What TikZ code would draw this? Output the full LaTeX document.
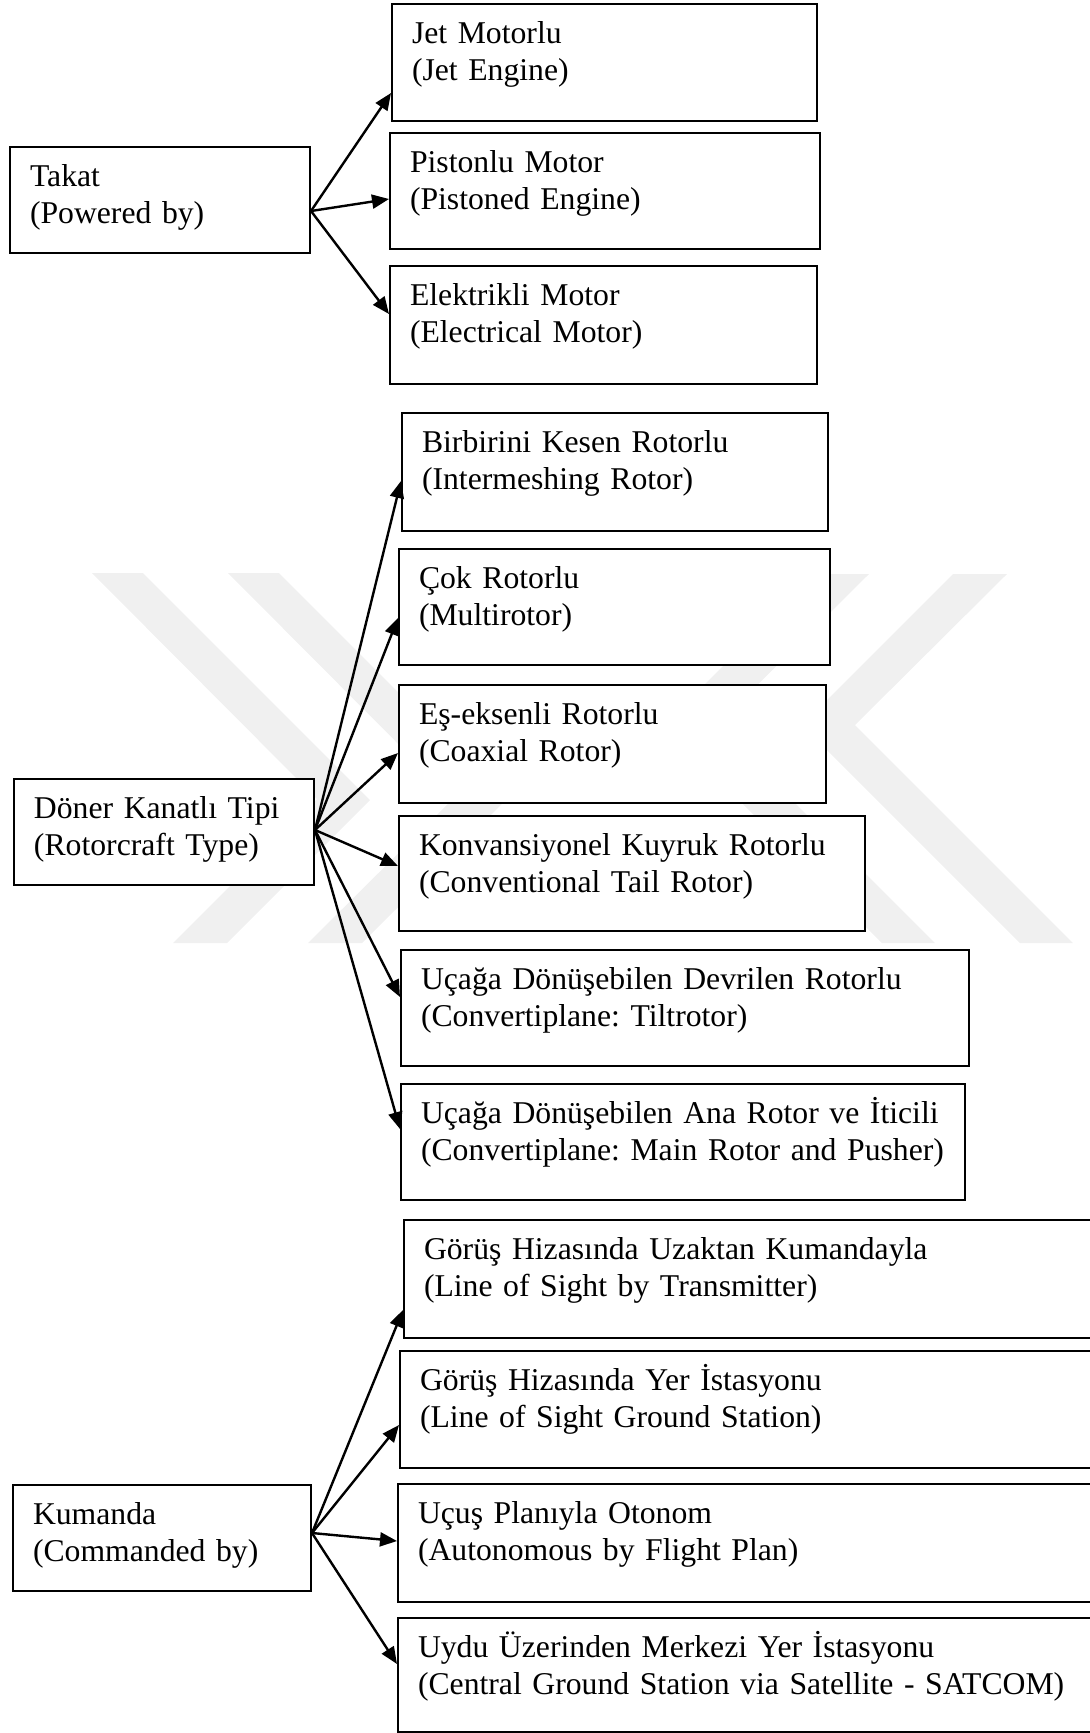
\documentclass[tikz,border=0pt]{standalone}
\usepackage{fontspec}
\setmainfont{Liberation Serif}
\usetikzlibrary{arrows.meta}

\begin{document}
\begin{tikzpicture}[
    x=1pt, y=-1pt,
    box/.style={rectangle, draw, line width=2pt, fill=white, anchor=north west, align=left,
        inner xsep=20pt, inner ysep=0pt, text height=39pt,
        font=\fontsize{31.7pt}{37.6pt}\selectfont\frenchspacing},
    wmark/.style={fill=black!6},
    link/.style={->, >={Triangle[length=17pt,width=14pt]}, line width=2.4pt}
]

\useasboundingbox (0,0) rectangle (1090,1733);
\clip (0,0) rectangle (1090,1733);

% faint watermark behind the boxes
\fill[wmark] (92,573) -- (143,573) -- (370,800) -- (227,943) -- (173,943) -- (317,799) -- cycle;
\fill[wmark] (228,573) -- (279,573) -- (506,800) -- (362,943) -- (308,943) -- (453,799) -- cycle;
\fill[wmark] (953,574) -- (1007,574) -- (855,725) -- (1073,943) -- (1020,943) -- (802,725) -- cycle;
\fill[wmark] (815,574) -- (869,574) -- (717,725) -- (935,943) -- (882,943) -- (664,725) -- cycle;

% Takat
\node[box, text width=260pt, text depth=67pt] (takat) at (9,146) {Takat\\(Powered by)};
\node[box, text width=385pt, text depth=78pt] (jet) at (391,3) {Jet Motorlu\\(Jet Engine)};
\node[box, text width=390pt, text depth=77pt] (piston) at (389,132) {Pistonlu Motor\\(Pistoned Engine)};
\node[box, text width=387pt, text depth=79pt] (elek) at (389,265) {Elektrikli Motor\\(Electrical Motor)};

\coordinate (takatout) at ([yshift=-11pt]takat.east);
\draw[link] (takatout) -- ([yshift=-30.5pt]jet.west);
\draw[link] (takatout) -- ([yshift=-8pt]piston.west);
\draw[link] (takatout) -- ([yshift=11pt]elek.west);

% Döner kanatlı
\node[box, text width=260pt, text depth=67pt] (doner) at (13,778) {Döner Kanatlı Tipi\\(Rotorcraft Type)};
\node[box, text width=386pt, text depth=79pt] (birb) at (401,412) {Birbirini Kesen Rotorlu\\(Intermeshing Rotor)};
\node[box, text width=391pt, text depth=77pt] (cok) at (398,548) {Çok Rotorlu\\(Multirotor)};
\node[box, text width=387pt, text depth=79pt] (es) at (398,684) {Eş-eksenli Rotorlu\\(Coaxial Rotor)};
\node[box, text width=426pt, text depth=76pt] (konv) at (398,815) {Konvansiyonel Kuyruk Rotorlu\\(Conventional Tail Rotor)};
\node[box, text width=528pt, text depth=77pt] (ucone) at (400,949) {Uçağa Dönüşebilen Devrilen Rotorlu\\(Convertiplane: Tiltrotor)};
\node[box, text width=524pt, text depth=77pt] (uctwo) at (400,1083) {Uçağa Dönüşebilen Ana Rotor ve İticili\\(Convertiplane: Main Rotor and Pusher)};

\coordinate (donerout) at ([yshift=2pt]doner.east);
\draw[link] (donerout) -- ([yshift=-9pt]birb.west);
\draw[link] (donerout) -- ([yshift=-11pt]cok.west);
\draw[link] (donerout) -- ([yshift=-9pt]es.west);
\draw[link] (donerout) -- ([yshift=7.5pt]konv.west);
\draw[link] (donerout) -- ([yshift=11pt]ucone.west);
\draw[link] (donerout) -- ([yshift=13pt]uctwo.west);

% Kumanda
\node[box, text width=258pt, text depth=67pt] (kumanda) at (12,1484) {Kumanda\\(Commanded by)};
\node[box, text width=657pt, text depth=79pt] (gorone) at (403,1219) {Görüş Hizasında Uzaktan Kumandayla\\(Line of Sight by Transmitter)};
\node[box, text width=661pt, text depth=78pt] (gortwo) at (399,1350) {Görüş Hizasında Yer İstasyonu\\(Line of Sight Ground Station)};
\node[box, text width=663pt, text depth=79pt] (ucus) at (397,1483) {Uçuş Planıyla Otonom\\(Autonomous by Flight Plan)};
\node[box, text width=663pt, text depth=75pt] (uydu) at (397,1617) {Uydu Üzerinden Merkezi Yer İstasyonu\\(Central Ground Station via Satellite - SATCOM)};

\coordinate (kumandaout) at ([yshift=5pt]kumanda.east);
\draw[link] (kumandaout) -- ([yshift=-31pt]gorone.west);
\draw[link] (kumandaout) -- ([yshift=-15.5pt]gortwo.west);
\draw[link] (kumandaout) -- ([yshift=2pt]ucus.west);
\draw[link] (kumandaout) -- ([yshift=11pt]uydu.west);

\end{tikzpicture}
\end{document}
